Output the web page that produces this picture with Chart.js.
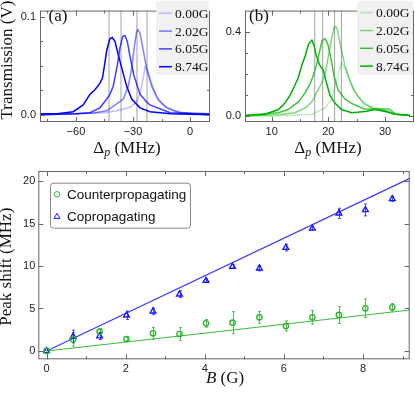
<!DOCTYPE html>
<html>
<head>
<meta charset="utf-8">
<script src="https://cdn.jsdelivr.net/npm/chart.js@4.4.1/dist/chart.umd.min.js"></script>
<style>
  html, body { margin: 0; padding: 0; background: #fff; }
  #wrap { position: relative; width: 415px; height: 396px; overflow: hidden; }
  canvas { position: absolute; }
</style>
</head>
<body>
<div id="wrap">
  <canvas id="chA" width="214" height="160" style="left:0;top:0"></canvas>
  <canvas id="chB" width="210" height="160" style="left:205px;top:0"></canvas>
  <canvas id="chC" width="415" height="236" style="left:0;top:160px"></canvas>
</div>
<script>
// ---- data ----
const fields = ['0.00G', '2.02G', '6.05G', '8.74G'];

// (a) copropagating spectra: [detuning MHz, transmission V]
const coSpec000 = [[-78.9,0.001],[-60,0.001],[-45,0.002],[-38.6,0.004],[-31.6,0.0075],[-28.1,0.013],[-26.3,0.022],[-24.6,0.038],[-23.7,0.049],[-23.2,0.048],[-21.9,0.043],[-20.2,0.032],[-17.5,0.019],[-14,0.010],[-8.8,0.004],[0,0.001],[10.5,0.001]];
const coSpec202 = [[-78.9,0.0],[-60,0.001],[-50,0.002],[-43.8,0.004],[-38.6,0.011],[-35.1,0.016],[-32.5,0.029],[-30.7,0.047],[-29.3,0.069],[-28.1,0.085],[-27.4,0.087],[-26.3,0.083],[-24.6,0.066],[-22.8,0.047],[-20.2,0.029],[-16.7,0.015],[-12.3,0.007],[-5.3,0.002],[10.5,0.0]];
const coSpec605 = [[-78.9,0.0],[-60,0.001],[-52.6,0.002],[-47.4,0.007],[-43.8,0.016],[-42.1,0.021],[-40.4,0.029],[-38.3,0.050],[-36.8,0.069],[-35.4,0.080],[-34.2,0.081],[-33,0.075],[-31.6,0.060],[-29.5,0.040],[-26.3,0.021],[-22.8,0.013],[-21.1,0.010],[-10.5,0.002],[10.5,0.001]];
const coSpec874 = [[-78.9,0.001],[-70,0.001],[-61.4,0.003],[-56.2,0.010],[-52.6,0.021],[-50,0.0255],[-47.4,0.032],[-46,0.038],[-44.7,0.054],[-43.8,0.066],[-42.1,0.078],[-40.9,0.079],[-39.5,0.075],[-37.7,0.061],[-35.4,0.044],[-33.3,0.029],[-30.7,0.016],[-26.3,0.007],[-21.1,0.003],[-10,0.001],[10.5,0.0]];
const coPeaks = [-42.6, -36.3, -27.9, -22.6];

// (b) counterpropagating spectra
const ctrSpec000 = [[5.3,0.0],[12,0.002],[17.1,0.010],[19.4,0.039],[20.6,0.082],[21.5,0.169],[22.0,0.227],[22.3,0.255],[23.2,0.212],[24.4,0.126],[25.6,0.082],[27.3,0.046],[29.7,0.032],[30.6,0.036],[31.8,0.013],[34.4,0.003]];
const ctrSpec202 = [[5.3,0.002],[11.2,0.007],[14.1,0.017],[15.9,0.039],[17.1,0.068],[17.9,0.111],[18.8,0.155],[19.4,0.198],[20.0,0.284],[20.6,0.371],[21.0,0.422],[21.3,0.426],[21.6,0.407],[22.2,0.328],[22.9,0.241],[23.8,0.169],[24.6,0.119],[26.2,0.061],[27.9,0.036],[30.3,0.036],[30.9,0.032],[31.8,0.010],[34.4,0.003]];
const ctrSpec605 = [[5.3,0.003],[11.2,0.017],[12.9,0.032],[14.7,0.068],[15.9,0.111],[16.8,0.155],[17.3,0.190],[17.9,0.241],[18.5,0.313],[18.9,0.357],[19.4,0.368],[19.9,0.342],[20.5,0.270],[21.0,0.190],[21.7,0.126],[22.9,0.082],[24.1,0.061],[26.2,0.036],[29.1,0.032],[30.3,0.025],[32.0,0.009],[34.4,0.003]];
const ctrSpec874 = [[5.3,0.003],[8.8,0.010],[11.2,0.032],[12.3,0.061],[13.2,0.097],[14.1,0.147],[14.7,0.184],[15.3,0.241],[15.9,0.284],[16.5,0.342],[17.1,0.361],[17.5,0.335],[17.9,0.284],[18.5,0.241],[19.1,0.219],[19.7,0.155],[20.3,0.097],[21.2,0.061],[22.3,0.032],[24.1,0.017],[26.5,0.022],[28.2,0.032],[30,0.022],[31.7,0.010],[34.4,0.003]];
const ctrPeaks = [17.6, 19.0, 21.1, 22.3];

// (c) peak shift vs field
const bField = [0, 0.67, 1.34, 2.02, 2.69, 3.36, 4.03, 4.70, 5.38, 6.05, 6.72, 7.39, 8.06, 8.74];
const shiftCtr = [0, 1.37, 2.27, 1.41, 2.08, 2.0, 3.25, 3.33, 3.96, 2.94, 3.96, 4.24, 5.02, 5.14];
const errCtr = [0, 0.8, 0.35, 0.2, 0.7, 0.75, 0.45, 1.3, 0.7, 0.6, 0.8, 1.0, 1.1, 0.45];
const shiftCo = [0, 1.7, 1.75, 4.2, 4.67, 6.67, 8.27, 9.92, 9.73, 12.16, 14.43, 16.2, 16.6, 17.9];
const errCo = [0, 0.75, 0.4, 0.5, 0.4, 0.4, 0.2, 0.2, 0.3, 0.4, 0.2, 0.6, 0.7, 0.3];
const fitCo = [[0, 0], [9.2, 20.35]];
const fitCtr = [[0, 0], [9.2, 4.83]];

// ticks
const aTicksX = [-60, -30, 0], aMinorX = [-75, -45, -15];
const aTicksY = [0, 0.1], aMinorY = [0.025, 0.05, 0.075];
const bTicksX = [10, 20, 30], bMinorX = [15, 25];
const bTicksY = [0, 0.4], bMinorY = [0.1, 0.2, 0.3];
const cTicksX = [0, 2, 4, 6, 8], cMinorX = [1, 3, 5, 7, 9];
const cTicksY = [0, 5, 10, 15, 20];

const blues = ['rgba(0,0,255,0.25)', 'rgba(0,0,255,0.5)', 'rgba(0,0,255,0.75)', 'rgba(0,0,255,1)'];
const greens = ['rgba(0,176,0,0.25)', 'rgba(0,176,0,0.5)', 'rgba(0,176,0,0.75)', 'rgba(0,176,0,1)'];

const SERIF = '"Liberation Serif", "Times New Roman", serif';
const SANS = '"Liberation Sans", Arial, sans-serif';

const toXY = arr => arr.map(p => ({x: p[0], y: p[1]}));

// ---- plugins ----
// frame with inward ticks on all four sides
const frameTicks = {
  id: 'frameTicks',
  afterDatasetsDraw(chart, args, o) {
    const {ctx, chartArea: a} = chart;
    const xs = chart.scales.x, ys = chart.scales.y;
    ctx.save();
    ctx.strokeStyle = '#666';
    ctx.lineWidth = 1;
    ctx.strokeRect(a.left + 0.5, a.top + 0.5, a.width - 1, a.height - 1);
    ctx.beginPath();
    const xt = (v, len) => {
      const px = Math.round(xs.getPixelForValue(v)) + 0.5;
      ctx.moveTo(px, a.bottom); ctx.lineTo(px, a.bottom - len);
      ctx.moveTo(px, a.top); ctx.lineTo(px, a.top + len);
    };
    const yt = (v, len) => {
      const py = Math.round(ys.getPixelForValue(v)) + 0.5;
      ctx.moveTo(a.left, py); ctx.lineTo(a.left + len, py);
      ctx.moveTo(a.right, py); ctx.lineTo(a.right - len, py);
    };
    (o.xMajor || []).forEach(v => xt(v, 5));
    (o.xMinor || []).forEach(v => xt(v, 3));
    (o.yMajor || []).forEach(v => yt(v, 5));
    (o.yMinor || []).forEach(v => yt(v, 3));
    ctx.stroke();
    ctx.restore();
  }
};

function richText(ctx, parts, cx, cy, rot) {
  ctx.save();
  ctx.translate(cx, cy);
  if (rot) ctx.rotate(rot);
  ctx.textBaseline = 'middle';
  let w = 0;
  parts.forEach(p => { ctx.font = p.font; w += ctx.measureText(p.t).width; });
  let x = -w / 2;
  parts.forEach(p => {
    ctx.font = p.font;
    ctx.fillStyle = '#111';
    ctx.fillText(p.t, x, p.dy || 0);
    x += ctx.measureText(p.t).width;
  });
  ctx.restore();
}

const labels = {
  id: 'labels',
  afterDraw(chart, args, o) {
    (o.items || []).forEach(it => richText(chart.ctx, it.parts, it.x, it.y, it.rot));
  }
};

const fieldLegend = {
  id: 'fieldLegend',
  afterDraw(chart, args, o) {
    const ctx = chart.ctx;
    ctx.save();
    ctx.fillStyle = 'rgba(240,240,240,0.95)';
    ctx.fillRect(o.x, o.y, o.w, o.h);
    ctx.font = '13.5px ' + SERIF;
    ctx.textBaseline = 'middle';
    fields.forEach((t, i) => {
      const yy = o.y + o.row0 + i * o.dy;
      ctx.strokeStyle = o.colors[i];
      ctx.lineWidth = 1.5;
      ctx.beginPath(); ctx.moveTo(o.x + 3, yy); ctx.lineTo(o.x + 16, yy); ctx.stroke();
      ctx.fillStyle = '#111';
      ctx.fillText(t, o.x + 19, yy + 1);
    });
    ctx.restore();
  }
};

const errorBars = {
  id: 'errorBars',
  beforeDatasetsDraw(chart) {
    const ctx = chart.ctx, xs = chart.scales.x, ys = chart.scales.y;
    ctx.save();
    chart.data.datasets.forEach(ds => {
      if (!ds.errorBars) return;
      ctx.strokeStyle = ds.errorColor;
      ctx.lineWidth = 1;
      ctx.beginPath();
      ds.data.forEach((p, i) => {
        const e = ds.errorBars[i];
        if (!e) return;
        const px = Math.round(xs.getPixelForValue(p.x)) + 0.5;
        const y1 = ys.getPixelForValue(p.y + e), y2 = ys.getPixelForValue(p.y - e);
        ctx.moveTo(px, y1); ctx.lineTo(px, y2);
        ctx.moveTo(px - 1.5, y1); ctx.lineTo(px + 1.5, y1);
        ctx.moveTo(px - 1.5, y2); ctx.lineTo(px + 1.5, y2);
      });
      ctx.stroke();
    });
    ctx.restore();
  }
};

const shiftLegend = {
  id: 'shiftLegend',
  afterDraw(chart, args, o) {
    const ctx = chart.ctx;
    ctx.save();
    ctx.fillStyle = '#fff';
    ctx.strokeStyle = '#888';
    ctx.lineWidth = 1;
    ctx.beginPath();
    ctx.roundRect(o.x + 0.5, o.y + 0.5, o.w, o.h, 3);
    ctx.fill(); ctx.stroke();
    ctx.font = '13.5px ' + SANS;
    ctx.textBaseline = 'middle';
    o.entries.forEach((en, i) => {
      const yy = o.y + o.row0 + i * o.dy;
      ctx.strokeStyle = en.color;
      ctx.fillStyle = 'rgba(0,0,0,0)';
      Chart.helpers.drawPoint(ctx, {pointStyle: en.style, radius: en.r, borderWidth: 1.3, rotation: 0}, o.x + 7, yy);
      ctx.fillStyle = '#111';
      ctx.fillText(en.text, o.x + 17, yy + 1);
    });
    ctx.restore();
  }
};

// ---- chart builders ----
function fixedScale(min, max, ticks, fmt, size, isX, pad) {
  return {
    type: 'linear', min: min, max: max,
    grid: {display: false, drawTicks: false},
    border: {display: false},
    afterBuildTicks: s => { s.ticks = ticks.map(v => ({value: v})); },
    afterFit: s => { if (isX) s.height = size; else s.width = size; },
    ticks: {
      padding: pad, color: '#222', font: {family: SANS, size: 11},
      maxRotation: 0, autoSkip: false,
      callback: fmt
    }
  };
}

const minusFmt = v => (v < 0 ? '\u2212' + Math.abs(v) : '' + v);

function spectrumChart(id, curves, peaks, colors, cfg) {
  const datasets = [];
  curves.slice().reverse().forEach((c, k) => {
    const i = curves.length - 1 - k;
    datasets.push({data: toXY(c), showLine: true, borderColor: colors[i], borderWidth: 1.5, pointRadius: 0, tension: 0});
  });
  peaks.forEach(v => datasets.push({data: [{x: v, y: -1}, {x: v, y: 1}], showLine: true,
    borderColor: 'rgba(130,130,130,0.75)', borderWidth: 1, pointRadius: 0}));
  return new Chart(document.getElementById(id), {
    type: 'scatter',
    data: {datasets: datasets},
    options: {
      responsive: false, animation: false,
      layout: {padding: cfg.padding},
      scales: {
        x: fixedScale(cfg.xMin, cfg.xMax, cfg.xTicks, minusFmt, 38, true, 3),
        y: fixedScale(cfg.yMin, cfg.yMax, cfg.yTicks, v => v.toFixed(1), 40, false, 4)
      },
      plugins: {
        legend: {display: false}, tooltip: {enabled: false},
        frameTicks: {xMajor: cfg.xTicks, xMinor: cfg.xMinor, yMajor: cfg.yTicks, yMinor: cfg.yMinor},
        fieldLegend: cfg.legend,
        labels: {items: cfg.labels}
      }
    },
    plugins: [frameTicks, fieldLegend, labels]
  });
}

const dpParts = [
  {t: '\u0394', font: '17px ' + SERIF},
  {t: 'p', font: 'italic 12px ' + SERIF, dy: 4},
  {t: ' (MHz)', font: '17px ' + SERIF}
];

spectrumChart('chA', [coSpec000, coSpec202, coSpec605, coSpec874], coPeaks, blues, {
  padding: {top: 0, right: 4, left: 0, bottom: 0},
  xMin: -78.9, xMax: 10.5, xTicks: aTicksX, xMinor: aMinorX,
  yMin: -0.0075, yMax: 0.1065, yTicks: aTicksY, yMinor: aMinorY,
  legend: {x: 156, y: 1, w: 53, h: 74, row0: 12.3, dy: 17.8, colors: blues},
  labels: [
    {parts: [{t: 'Transmission (V)', font: '17px ' + SERIF}], x: 8, y: 60, rot: -Math.PI / 2},
    {parts: dpParts, x: 127, y: 149},
    {parts: [{t: '(a)', font: '17px ' + SERIF}], x: 58, y: 17}
  ]
});

spectrumChart('chB', [ctrSpec000, ctrSpec202, ctrSpec605, ctrSpec874], ctrPeaks, greens, {
  padding: {top: 0, right: 1, left: 0, bottom: 0},
  xMin: 5.3, xMax: 35.1, xTicks: bTicksX, xMinor: bMinorX,
  yMin: -0.0273, yMax: 0.501, yTicks: bTicksY, yMinor: bMinorY,
  legend: {x: 152, y: 1, w: 56, h: 74, row0: 11.7, dy: 17.8, colors: greens},
  labels: [
    {parts: dpParts, x: 123, y: 149},
    {parts: [{t: '(b)', font: '17px ' + SERIF}], x: 54, y: 17}
  ]
});

const blueMark = 'rgb(20,20,255)', greenMark = 'rgb(40,180,40)';

new Chart(document.getElementById('chC'), {
  type: 'scatter',
  data: {
    datasets: [
      {data: bField.map((b, i) => ({x: b, y: shiftCtr[i]})), pointStyle: 'circle', pointRadius: 2.7,
        borderColor: greenMark, backgroundColor: 'rgba(0,0,0,0)', pointBorderWidth: 1.3,
        errorBars: errCtr, errorColor: 'rgba(40,180,40,0.8)'},
      {data: bField.map((b, i) => ({x: b, y: shiftCo[i]})), pointStyle: 'triangle', pointRadius: 3.4,
        borderColor: blueMark, backgroundColor: 'rgba(0,0,0,0)', pointBorderWidth: 1.3,
        errorBars: errCo, errorColor: 'rgba(20,20,255,0.75)'},
      {data: toXY(fitCo), showLine: true, pointRadius: 0, borderColor: 'rgb(60,60,255)', borderWidth: 1.2},
      {data: toXY(fitCtr), showLine: true, pointRadius: 0, borderColor: 'rgb(60,190,60)', borderWidth: 1.2}
    ]
  },
  options: {
    responsive: false, animation: false,
    layout: {padding: {top: 11, right: 1, left: 0, bottom: 0}},
    scales: {
      x: fixedScale(-0.21, 9.18, cTicksX, v => '' + v, 36.7, true, 3),
      y: fixedScale(-0.98, 21.18, cTicksY, v => '' + v, 38.3, false, 3)
    },
    plugins: {
      legend: {display: false}, tooltip: {enabled: false},
      frameTicks: {xMajor: cTicksX, xMinor: cMinorX, yMajor: cTicksY},
      shiftLegend: {x: 50, y: 22.7, w: 140, h: 45, row0: 11.6, dy: 22.4, entries: [
        {text: 'Counterpropagating', style: 'circle', r: 2.7, color: greenMark},
        {text: 'Copropagating', style: 'triangle', r: 3.4, color: blueMark}
      ]},
      labels: {items: [
        {parts: [{t: 'Peak shift (MHz)', font: '17px ' + SERIF}], x: 7, y: 106.7, rot: -Math.PI / 2},
        {parts: [{t: 'B', font: 'italic 17px ' + SERIF}, {t: ' (G)', font: '17px ' + SERIF}], x: 225, y: 219}
      ]}
    }
  },
  plugins: [frameTicks, errorBars, shiftLegend, labels]
});
</script>
</body>
</html>
